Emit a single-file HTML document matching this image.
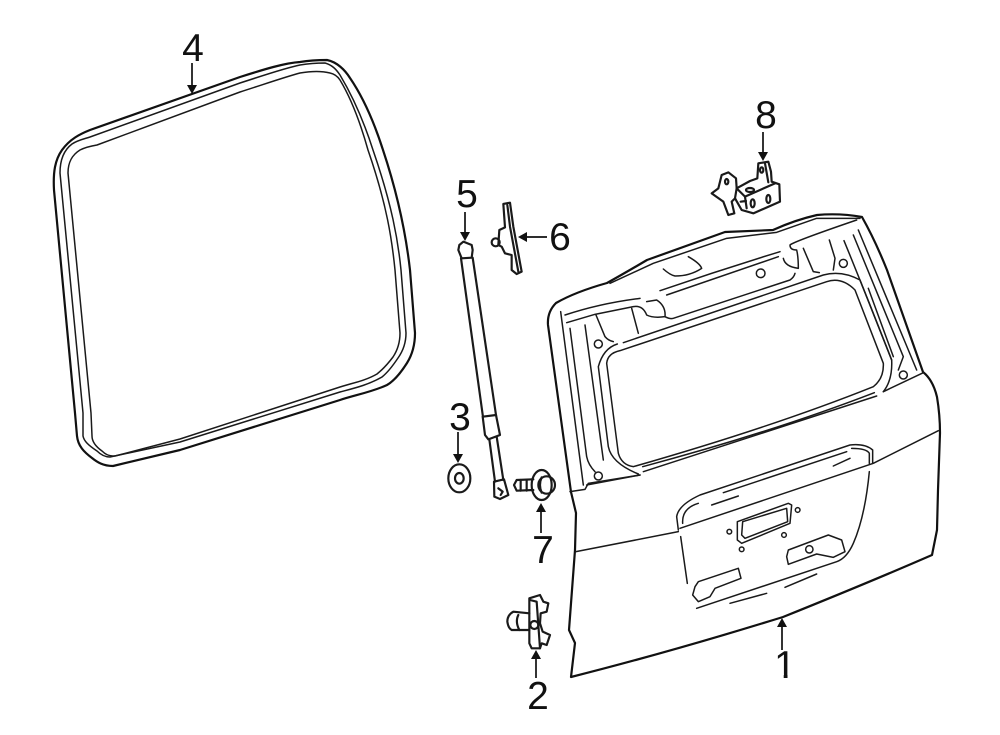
<!DOCTYPE html>
<html>
<head>
<meta charset="utf-8">
<style>
html,body{margin:0;padding:0;background:#fff;}
svg{display:block;}
text{font-family:"Liberation Sans",sans-serif;font-size:39px;fill:#111;text-anchor:middle;}
.t{fill:none;stroke:#1a1a1a;stroke-width:1.5;stroke-linecap:round;stroke-linejoin:round;}
.o{fill:none;stroke:#111;stroke-width:2.2;stroke-linecap:round;stroke-linejoin:round;}
.z path,.z circle,.z ellipse{fill:none;stroke:#1a1a1a;stroke-width:4.5;stroke-linecap:round;stroke-linejoin:round;}
.y path,.y circle,.y ellipse{fill:none;stroke:#1a1a1a;stroke-width:6.5;stroke-linecap:round;stroke-linejoin:round;}
.a{stroke:#111;stroke-width:1.7;fill:none;}
.h{fill:#111;stroke:none;}
</style>
</head>
<body>
<svg width="1000" height="735" viewBox="0 0 1000 735" xmlns="http://www.w3.org/2000/svg">
<rect width="1000" height="735" fill="#fff"/>

<!-- Part 4 seal -->
<path class="o" d="M90,130 L240,77 C265,69 285,63 300,62 C312,60 320,60 327,60 C337,62 345,70 350,78 C365,100 375,125 383,150 C398,195 406,235 410,270 L415,333 C415,345 412,355 407,363 C400,374 394,381 387,385 C372,392 355,395 340,400 L180,450 L113,466 C103,466 97,462 92,458 C84,452 78,446 77,436 L75,413 L54,190 C53,172 55,160 62,150 C70,139 80,134 90,130 Z"/>
<path class="t" d="M90,137 L240,83 C265,75 285,68 300,65 C312,63 320,63 325,63 C332,65 336,69 340,75 C355,100 365,125 373,150 C392,205 398,240 401,270 L406,333 C406,343 403,351 398,358 C392,367 387,373 382,377 C368,385 355,388 340,392 L180,442 L110,457 C104,457 100,454 97,451 C88,445 84,441 83,436 L83,413 L60,173 C60,160 64,150 72,144 C78,140 84,139 90,137 Z"/>
<path class="t" d="M97,145 L240,92 C265,84 285,77 300,73 C312,71 322,71 330,73 C335,74 338,77 340,80 C352,100 361,125 368,150 C387,205 392,240 395,270 L400,333 C400,343 397,351 393,357 C387,365 382,370 377,374 C365,381 352,383 340,387 L180,439 L115,456 C108,456 105,454 102,451 C95,446 92,441 92,436 L91,413 L68,173 C68,162 72,155 80,150 C86,147 91,146 97,145 Z"/>

<!-- Part 1 tailgate outer -->
<path class="o" fill="#fff" d="M571,677 L575,643 L569,630 L575,550 L576,513 L571,492 L548,325 Q547,312 556,303 Q575,292 607,283 Q625,273 647,260 L725,232 Q750,231 773,230 Q795,220 817,215 Q840,213 862,217 Q875,240 887,270 L923,372 Q933,380 937,397 Q940,415 940,433 L938,490 L937,530 L932,555 Q870,582 783,617 Q670,652 571,677 Z"/>

<!-- Tailgate upper detail, zoom coords -->
<g class="z" transform="translate(540,200) scale(0.33333)">
<path d="M200,490 Q203,460 240,452 L860,245 Q905,230 945,270 L1030,490 Q1032,535 1000,560 Q700,680 280,800 Q245,795 235,760 Z"/>
<path d="M250,428 L850,225 Q905,210 960,240 L1055,480 Q1058,540 1030,575"/>
<path d="M232,432 Q190,445 175,500 L205,740 Q215,790 295,822"/>
<path d="M308,800 Q700,695 1003,578"/>
<path d="M310,815 L1010,588"/>
<path d="M75,345 Q180,310 300,295"/>
<path d="M80,368 L165,343 L280,320 Q308,315 320,345 Q340,355 375,350 Q378,318 350,300 L320,305"/>
<path d="M375,350 Q390,358 400,355 L750,240 Q762,232 765,220"/>
<path d="M360,272 Q540,210 720,155"/>
<path d="M380,285 L715,170"/>
<path d="M730,175 Q735,200 775,205 Q775,170 770,150 Q750,150 750,135 Q760,125 950,60"/>
<path d="M210,250 L340,190 L560,115 L710,97 L830,55 L960,55"/>
<path d="M62,335 L130,855"/>
<path d="M90,385 L140,770 Q145,795 165,815"/>
<path d="M135,375 L190,780"/>
<path d="M955,90 L1130,510"/>
<path d="M940,105 L1090,470 L1075,510"/>
<path d="M912,122 Q985,300 1055,480"/>
<path d="M985,265 L1060,470"/>
<path d="M168,345 L195,410 Q205,422 220,425"/>
<path d="M275,325 L295,400"/>
<path d="M790,145 L820,215 L838,218"/>
<path d="M868,120 L885,175 L880,210"/>
<path d="M370,207 Q390,225 405,228 Q450,228 485,205 Q480,190 445,170"/>
<path d="M140,855 L300,825"/>
<path d="M1030,575 L1150,518"/>
<circle cx="175" cy="432" r="12"/>
<circle cx="662" cy="220" r="13"/>
<circle cx="910" cy="190" r="12"/>
<circle cx="1090" cy="525" r="12"/>
<circle cx="175" cy="828" r="12"/>
</g>

<!-- Tailgate lower detail -->
<g class="z" transform="translate(550,420) scale(0.33333)">
<path d="M270,165 L115,190 L105,208 L60,215"/>
<path d="M78,395 L385,335"/>
<path d="M385,330 L380,290 Q385,255 450,225 L900,75 Q945,70 968,90 L968,130"/>
<path d="M390,325 L970,130 L1165,32"/>
<path d="M398,310 Q395,265 445,250"/>
<path d="M520,218 L890,95"/>
<path d="M485,255 L565,228"/>
<path d="M850,138 L900,115"/>
<path d="M905,85 Q950,85 958,100 L958,130"/>
<path d="M392,350 L412,490"/>
<path d="M958,155 Q945,290 910,370 Q890,415 860,425 L440,565"/>
<path d="M540,550 L650,520"/>
<path d="M705,502 L800,462"/>
</g>

<!-- Plate and handles -->
<g class="z" transform="translate(660,480) scale(0.33333)">
<path d="M232,125 L385,70 L395,75 L390,130 L245,190 L232,180 Z"/>
<path d="M248,125 L380,85 L383,125 L255,175 L245,165 Z"/>
<circle cx="208" cy="155" r="7"/>
<circle cx="413" cy="90" r="7"/>
<circle cx="245" cy="208" r="7"/>
<circle cx="372" cy="165" r="7"/>
<path d="M385,210 L505,165 L545,180 L555,215 L520,232 L470,222 L385,253 L380,230 Z"/>
<circle cx="448" cy="208" r="11"/>
<path d="M115,305 L235,265 L243,295 L165,325 L150,350 L115,365 L98,345 L105,320 Z"/>
</g>

<!-- Strut -->
<g class="y" transform="translate(430,170) scale(0.33333)">
<path d="M88,225 L100,215 L125,225 L128,240 L125,263 L95,265 L85,240 Z"/>
<path d="M93,265 L159,741"/>
<path d="M128,263 L198,735"/>
</g>
<g class="y" transform="translate(430,400) scale(0.33333)">
<path d="M158,50 L198,45 L210,105 L175,118 L165,105 Z"/>
<path d="M178,118 L195,245"/>
<path d="M200,110 L220,240"/>
<path d="M192,245 L222,238 L235,285 L210,297 L193,290 Z"/>
<path d="M205,265 L218,275 L212,285"/>
<ellipse cx="88" cy="235" rx="33" ry="42"/>
<ellipse cx="88" cy="235" rx="13" ry="16"/>
<ellipse cx="335" cy="255" rx="30" ry="45"/>
<ellipse cx="350" cy="255" rx="25" ry="26"/>
<path d="M335,232 Q325,255 335,278"/>
<path d="M310,238 L260,240 L252,255 L260,272 L310,270"/>
<path d="M272,240 L272,272"/>
<path d="M290,240 L290,272"/>
</g>

<!-- Part 6 -->
<g class="y" transform="translate(430,170) scale(0.33333)">
<path d="M220,102 L240,98 L250,170 L275,305 L260,312 L245,300 L245,255 L225,250 L215,230 L205,225 L208,180 L225,172 Z"/>
<circle cx="197" cy="217" r="12"/>
<path d="M232,105 L240,170 L265,305"/>
</g>

<!-- Part 2 -->
<g class="y" transform="translate(490,580) scale(0.33333)">
<path d="M118,55 L150,45 L160,65 L175,70 L170,95 L152,100 L150,130 L158,155 L180,165 L170,195 L155,190 L150,205 L125,205 L118,190 Z"/>
<path d="M120,60 L140,65 L150,205"/>
<circle cx="133" cy="135" r="12"/>
<path d="M118,100 L70,95 Q52,105 52,125 Q55,145 65,150 L118,150"/>
<path d="M85,105 Q75,125 88,150"/>
</g>

<!-- Part 8 -->
<g class="y" transform="translate(700,95) scale(0.33333)">
<path d="M175,205 L205,200 L213,230 L215,260 L238,268 L240,320 L160,355 L125,345 L105,310 L95,320 L103,355 L85,360 L70,320 L35,295 L55,280 L65,240 L85,232 L108,250 L110,280 L150,258 L172,250 Z"/>
<path d="M110,280 L135,305 L225,265"/>
<path d="M135,305 L140,340"/>
<path d="M195,205 L205,262"/>
<path d="M105,310 L110,280"/>
<ellipse cx="150" cy="285" rx="12" ry="6"/>
<ellipse cx="185" cy="225" rx="5" ry="8"/>
<ellipse cx="80" cy="260" rx="5" ry="8"/>
<ellipse cx="158" cy="325" rx="6" ry="12"/>
<ellipse cx="205" cy="312" rx="6" ry="12"/>
<path d="M122,320 L138,318"/>
</g>

<!-- Arrows -->
<path class="a" d="M192,63 V86"/><path class="h" d="M187,85 H197 L192,94 Z"/>
<path class="a" d="M465,212 V233"/><path class="h" d="M460,232 H470 L465,241 Z"/>
<path class="a" d="M547,237 H526"/><path class="h" d="M527,232 V242 L518,237 Z"/>
<path class="a" d="M458,432 V455"/><path class="h" d="M453,454 H463 L458,463 Z"/>
<path class="a" d="M541,533 V511"/><path class="h" d="M536,512 H546 L541,503 Z"/>
<path class="a" d="M536,678 V658"/><path class="h" d="M531,659 H541 L536,650 Z"/>
<path class="a" d="M763,132 V153"/><path class="h" d="M758,152 H768 L763,161 Z"/>
<path class="a" d="M782,650 V626"/><path class="h" d="M777,627 H787 L782,618 Z"/>

<!-- Labels -->
<text x="193" y="61">4</text>
<text x="467" y="207">5</text>
<text x="560" y="250">6</text>
<text x="460" y="430">3</text>
<text x="543" y="563">7</text>
<text x="538" y="709">2</text>
<text x="766" y="128">8</text>
<text x="785" y="678">1</text>
<rect x="772" y="674" width="11.7" height="7" fill="#fff"/>
<rect x="787.5" y="674" width="11" height="7" fill="#fff"/>
</svg>
</body>
</html>
